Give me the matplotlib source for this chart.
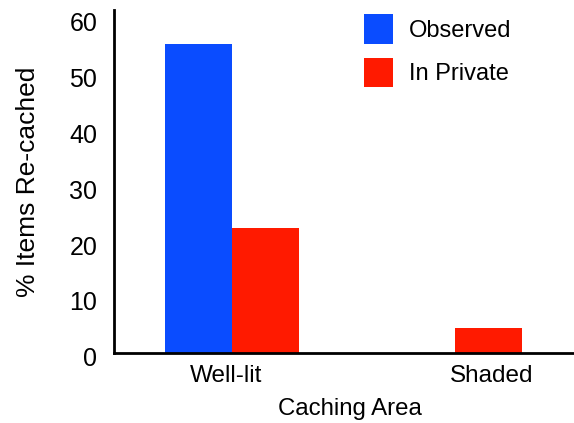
import numpy as np
import matplotlib
matplotlib.use("Agg")
import matplotlib.pyplot as plt
from matplotlib.transforms import ScaledTranslation

# data
areas = ["Well-lit", "Shaded"]
observed = [55.3, 0.0]
in_private = [22.3, 4.4]
series_names = ["Observed", "In Private"]

blue = "#0a4cff"
red = "#ff1a00"

plt.rcParams['font.family'] = ['Liberation Sans', 'DejaVu Sans']

fig = plt.figure(figsize=(5.74, 4.23), dpi=100)
ax = fig.add_axes([114/574, 1-352.7/423, (573-114)/574, (352.7-10)/423])

x = np.array([0.0, 3.33])
w = 1.0
ax.bar(x - w/2, observed, w, color=blue, label=series_names[0])
ax.bar(x + w/2, in_private, w, color=red, label=series_names[1])

ax.set_xlim(-1.76, 5.09)
ax.set_ylim(0, 61.4)
ax.set_yticks(np.arange(0, 61, 10))
ax.set_xticks([x[0] - 0.09, x[1] + 0.55])
ax.set_xticklabels(areas)

for s in ["top", "right"]:
    ax.spines[s].set_visible(False)
for s in ["left", "bottom"]:
    ax.spines[s].set_linewidth(2)
    ax.spines[s].set_color("black")

ax.tick_params(axis="y", length=0, pad=12, labelsize=18)
ax.tick_params(axis="x", length=0, pad=9, labelsize=17.5)
# labels in the original sit a few pixels below their ticks
shift = ScaledTranslation(0, -4/100, fig.dpi_scale_trans)
for lab in ax.get_yticklabels():
    lab.set_transform(lab.get_transform() + shift)

ax.set_xlabel("Caching Area", fontsize=17.3)
ax.set_ylabel("% Items Re-cached", fontsize=19)
ax.xaxis.set_label_coords(0.514, -0.132)
ax.yaxis.set_label_coords(-0.161, 0.5)

fig.legend(loc="upper left", bbox_to_anchor=(364/574, 1-14/423),
           frameon=False, fontsize=17, handlelength=1.22, handleheight=1.55,
           handletextpad=0.68, labelspacing=0.6, borderpad=0, borderaxespad=0)

fig.savefig("out.png", dpi=100)
